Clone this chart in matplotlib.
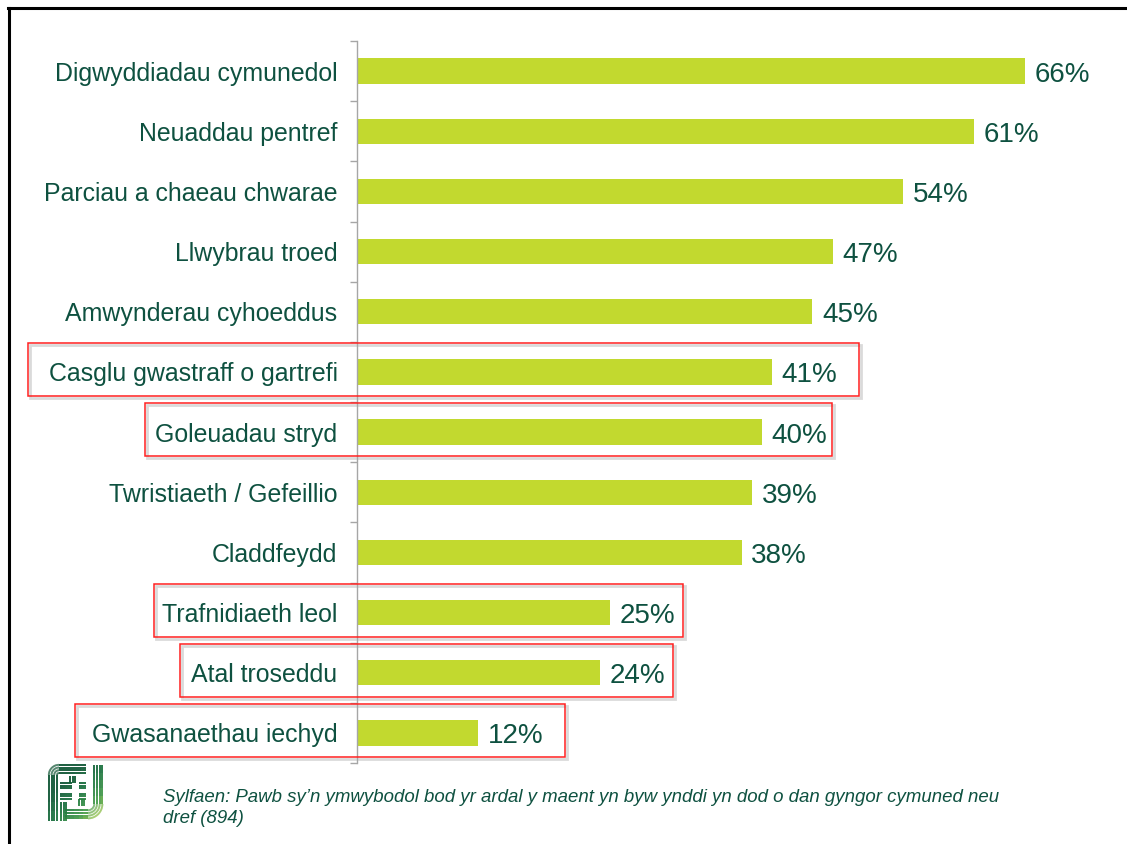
import numpy as np
import matplotlib
matplotlib.use("Agg")
import matplotlib.pyplot as plt
from matplotlib.patches import Rectangle
from matplotlib.lines import Line2D
from matplotlib.collections import LineCollection
from matplotlib.colors import LinearSegmentedColormap

plt.rcParams['font.family'] = ['Liberation Sans', 'DejaVu Sans']

# ---- data ----
categories = [
    "Digwyddiadau cymunedol", "Neuaddau pentref", "Parciau a chaeau chwarae",
    "Llwybrau troed", "Amwynderau cyhoeddus", "Casglu gwastraff o gartrefi",
    "Goleuadau stryd", "Twristiaeth / Gefeillio", "Claddfeydd",
    "Trafnidiaeth leol", "Atal troseddu", "Gwasanaethau iechyd",
]
values = [66, 61, 54, 47, 45, 41, 40, 39, 38, 25, 24, 12]
highlighted = [False, False, False, False, False, True, True, False, False, True, True, True]
# hand-drawn boxes: extra space (px) left of label / right of value text
box_pad_left = [0, 0, 0, 0, 0, 21, 10, 0, 0, 8, 11, 17]
box_pad_right = [0, 0, 0, 0, 0, 22, 5, 0, 0, 8, 8, 21]
footnote = ("Sylfaen: Pawb sy\u2019n ymwybodol bod yr ardal y maent yn byw ynddi yn dod o dan gyngor cymuned neu\n"
            "dref (894)")

text_col = '#0E5140'
bar_col = '#C2D92F'
W, H = 1127, 844

fig = plt.figure(figsize=(W / 100, H / 100), dpi=100)
ax = fig.add_axes([357 / W, 1 - 763 / H, (1100 - 357) / W, (763 - 41) / H])
ax.patch.set_visible(False)

y = np.arange(len(categories))
ax.barh(y, values, height=0.42, color=bar_col, zorder=2)
ax.set_ylim(len(categories) - 0.5, -0.5)
ax.set_xlim(0, 743 / 10.12)

for s in ['top', 'right', 'bottom']:
    ax.spines[s].set_visible(False)
ax.spines['left'].set_color('#A6A6A6')
ax.spines['left'].set_linewidth(1)
ax.set_xticks([])
ax.set_yticks(y, categories, fontsize=17.9, color=text_col)
ax.tick_params(axis='y', which='major', length=0, pad=14)
ax.set_yticks(np.arange(-0.5, len(categories), 1), minor=True)
ax.tick_params(axis='y', which='minor', length=5, color='#A6A6A6', width=1)

val_texts = []
for i, v in enumerate(values):
    t = ax.annotate(f"{v}%", (v, i), xytext=(7, -2.5), textcoords='offset points',
                    va='center', ha='left', fontsize=20, color=text_col)
    val_texts.append(t)

# red boxes around highlighted rows
fig.canvas.draw()
r = fig.canvas.get_renderer()
labels = ax.get_yticklabels()
for i, hl in enumerate(highlighted):
    if not hl:
        continue
    lb = labels[i].get_window_extent(r)
    vb = val_texts[i].get_window_extent(r)
    yc = ax.transData.transform((0, i))[1]
    x0 = lb.x0 - box_pad_left[i]
    x1 = vb.x1 + box_pad_right[i]
    y0, y1 = yc - 24, yc + 29
    fig.patches.append(Rectangle(((x0 + 2) / W, (y0 - 2) / H), (x1 - x0) / W, (y1 - y0) / H,
                                 transform=fig.transFigure, fill=False,
                                 edgecolor='#DADADA', lw=2, zorder=-2))
    fig.patches.append(Rectangle((x0 / W, y0 / H), (x1 - x0) / W, (y1 - y0) / H,
                                 transform=fig.transFigure, fill=False,
                                 edgecolor='#FF2020', lw=1.1, zorder=5))

# frame lines
fig.add_artist(Line2D([8 / W, 1], [1 - 8 / H, 1 - 8 / H], color='black', lw=2.2))
fig.add_artist(Line2D([9 / W, 9 / W], [0, 1 - 8 / H], color='black', lw=2.2))

# footnote
fig.text(163 / W, 1 - 789 / H, footnote, fontsize=13.4, style='italic', color=text_col,
         va='top', ha='left', linespacing=1.33)

# logo (striped F / J mark)
lax = fig.add_axes([47 / W, 1 - 821 / H, 58 / W, 58 / H])
lax.set_xlim(-1, 57)
lax.set_ylim(57, -1)
lax.axis('off')
cmap = LinearSegmentedColormap.from_list('logo', ['#0A5230', '#17703C', '#3F9845', '#B9D53A'])


def arc(cx, cy, rad, a0, a1, n=14):
    a = np.radians(np.linspace(a0, a1, n))
    return list(zip(cx + rad * np.cos(a), cy + rad * np.sin(a)))


step = 2.7
paths = []
for k in range(4):
    d = 0.8 + k * step
    # F: stem and top band
    paths.append([(d, 56.5)] + arc(11, 11, 11 - d, 180, 270) + [(38, d)])
    # J: right stem curving into bottom band
    paths.append([(55.2 - d, 0.8)] + arc(40, 40, 15.2 - d, 0, 90) + [(17, 55.2 - d)])
for k in range(3):
    d = k * step
    # crossbar, split around the white "I"
    paths.append([(12, 19 + d), (24, 19 + d)])
    paths.append([(31, 19 + d), (38, 19 + d)])
    paths.append([(12, 35 - d), (24, 35 - d)])
    paths.append([(31, 35 - d), (38, 35 - d)])
    # uprights of the "I"
    paths.append([(22 + d, 12), (22 + d, 19)])
    paths.append([(31 + d, 35), (31 + d, 42)])
    # inner lines of the lower stem
    paths.append([(13 + d, 38), (13 + d, 56.5)])

segs, cols = [], []
for p in paths:
    p = np.array(p)
    fine = []
    for a, b in zip(p[:-1], p[1:]):
        for t in np.linspace(0, 1, 6)[:-1]:
            fine.append(a + (b - a) * t)
    fine.append(p[-1])
    fine = np.array(fine)
    for a, b in zip(fine[:-1], fine[1:]):
        segs.append([a, b])
        cols.append(cmap(min(1, max(0, ((a[0] + b[0]) / 2 + (a[1] + b[1]) / 2 - 35) / 75))))
lax.add_collection(LineCollection(segs, colors=cols, linewidths=1.3, capstyle='butt'))

fig.savefig("out.png", dpi=100)
